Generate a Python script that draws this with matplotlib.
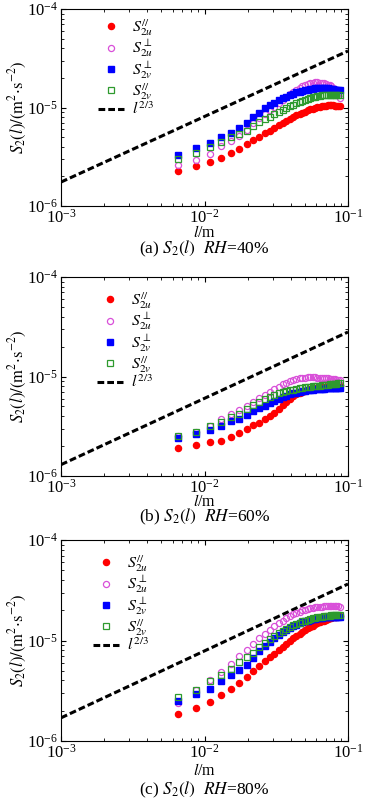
import numpy as np
import matplotlib
matplotlib.use("Agg")
import matplotlib.pyplot as plt

plt.rcParams['font.family'] = ['Liberation Serif', 'DejaVu Serif']
plt.rcParams['mathtext.fontset'] = 'stix'

# separation l (m)
l_vals = [0.00656, 0.00875, 0.01094, 0.01313, 0.01531, 0.01750, 0.01969, 0.02188,
          0.02406, 0.02625, 0.02844, 0.03063, 0.03281, 0.03500, 0.03719, 0.03938,
          0.04156, 0.04375, 0.04594, 0.04813, 0.05031, 0.05250, 0.05469, 0.05688,
          0.05906, 0.06125, 0.06344, 0.06563, 0.06781, 0.07000, 0.07219, 0.07438,
          0.07656, 0.07875, 0.08094, 0.08313, 0.08531, 0.08750]

# values in units of 1e-6 m^2 s^-2
# RH = 40%
a_u_par = [2.26, 2.55, 2.80, 3.08, 3.44, 3.81, 4.25, 4.63, 5.05, 5.45, 5.82, 6.23, 6.6, 7.0,
           7.35, 7.7, 8.0, 8.3, 8.6, 8.85, 9.1, 9.35, 9.55, 9.75, 9.9, 10.05, 10.2, 10.3,
           10.4, 10.45, 10.5, 10.5, 10.5, 10.5, 10.45, 10.45, 10.4, 10.4]
a_u_perp = [2.6, 2.9, 3.36, 4.08, 4.59, 5.16, 5.9, 6.9, 7.76, 8.6, 9.4, 10.2, 11.0, 11.9,
            12.8, 13.7, 14.5, 15.2, 15.9, 16.5, 17.0, 17.4, 17.7, 17.9, 18.0, 18.0, 17.9,
            17.8, 17.6, 17.4, 17.1, 16.8, 16.4, 15.9, 15.3, 14.6, 13.8, 12.6]
a_v_perp = [3.33, 3.87, 4.38, 5.0, 5.54, 6.24, 7.0, 7.94, 8.85, 9.8, 10.5, 11.2, 11.8, 12.4,
            12.9, 13.4, 13.8, 14.2, 14.5, 14.8, 15.0, 15.2, 15.4, 15.5, 15.6, 15.7, 15.7,
            15.7, 15.7, 15.6, 15.6, 15.5, 15.4, 15.3, 15.2, 15.1, 15.0, 14.9]
a_v_par = [2.97, 3.47, 3.99, 4.49, 4.97, 5.33, 5.8, 6.5, 7.1, 7.6, 8.1, 8.6, 9.0, 9.5, 9.9,
           10.3, 10.7, 11.0, 11.4, 11.7, 12.0, 12.3, 12.5, 12.7, 12.9, 13.1, 13.2, 13.3,
           13.4, 13.5, 13.5, 13.5, 13.5, 13.5, 13.5, 13.4, 13.4, 13.3]
# RH = 60%
b_u_par = [1.90, 2.05, 2.18, 2.27, 2.49, 2.68, 2.99, 3.22, 3.43, 3.77, 4.01, 4.34, 4.76, 5.15,
           5.57, 5.95, 6.3, 6.6, 6.85, 7.05, 7.2, 7.35, 7.45, 7.55, 7.6, 7.7, 7.75, 7.8,
           7.85, 7.9, 7.95, 8.0, 8.05, 8.1, 8.15, 8.2, 8.25, 8.3]
b_u_perp = [2.5, 2.8, 3.18, 3.71, 4.2, 4.65, 5.1, 5.6, 6.1, 6.55, 7.0, 7.5, 7.9, 8.35, 8.7,
            9.0, 9.25, 9.45, 9.6, 9.7, 9.75, 9.8, 9.8, 9.8, 9.8, 9.75, 9.7, 9.7, 9.65, 9.6,
            9.55, 9.5, 9.45, 9.4, 9.35, 9.3, 9.25, 9.2]
b_v_perp = [2.40, 2.65, 2.87, 3.18, 3.54, 3.77, 4.07, 4.48, 4.8, 5.1, 5.4, 5.7, 5.95, 6.2,
            6.4, 6.6, 6.75, 6.9, 7.0, 7.1, 7.2, 7.3, 7.35, 7.4, 7.45, 7.5, 7.5, 7.55, 7.55,
            7.6, 7.6, 7.6, 7.65, 7.65, 7.65, 7.7, 7.7, 7.7]
b_v_par = [2.55, 2.8, 3.15, 3.48, 3.92, 4.23, 4.76, 5.23, 5.6, 5.95, 6.25, 6.5, 6.75, 6.95,
           7.1, 7.25, 7.4, 7.5, 7.6, 7.7, 7.8, 7.85, 7.9, 7.95, 8.0, 8.05, 8.1, 8.15, 8.2,
           8.25, 8.3, 8.35, 8.4, 8.45, 8.5, 8.5, 8.55, 8.6]
# RH = 80%
c_u_par = [1.85, 2.12, 2.47, 2.84, 3.31, 3.77, 4.33, 4.94, 5.53, 6.21, 6.8, 7.4, 8.1, 8.7,
           9.3, 9.9, 10.5, 11.1, 11.7, 12.2, 12.7, 13.2, 13.7, 14.1, 14.5, 14.9, 15.2, 15.5,
           15.8, 16.1, 16.4, 16.6, 16.8, 17.0, 17.2, 17.3, 17.4, 17.5]
c_u_perp = [2.4, 3.2, 4.0, 4.9, 5.9, 7.0, 8.1, 9.3, 10.5, 11.6, 12.7, 13.8, 14.8, 15.8, 16.7,
            17.5, 18.2, 18.8, 19.4, 19.9, 20.3, 20.7, 21.0, 21.2, 21.4, 21.5, 21.6, 21.7,
            21.8, 21.8, 21.9, 21.9, 22.0, 22.0, 22.0, 21.9, 21.8, 21.7]
c_v_perp = [2.5, 2.93, 3.31, 3.92, 4.5, 5.13, 5.75, 6.71, 7.82, 8.78, 9.7, 10.6, 11.4, 12.1,
            12.8, 13.4, 13.9, 14.4, 14.8, 15.2, 15.5, 15.8, 16.1, 16.3, 16.5, 16.7, 16.8,
            16.9, 17.0, 17.0, 17.1, 17.1, 17.1, 17.1, 17.1, 17.1, 17.1, 17.1]
c_v_par = [2.77, 3.24, 3.92, 4.57, 5.25, 6.12, 6.81, 7.53, 8.64, 9.5, 10.3, 11.1, 11.8, 12.5,
           13.1, 13.7, 14.2, 14.7, 15.1, 15.5, 15.8, 16.1, 16.4, 16.6, 16.8, 17.0, 17.2,
           17.3, 17.4, 17.5, 17.6, 17.7, 17.8, 17.9, 17.9, 18.0, 18.0, 18.0]

# reference l^{2/3} line end points
line_x = [1e-3, 1e-1]
line_a = [1.75e-6, 3.75e-5]
line_b = [1.30e-6, 2.80e-5]
line_c = [1.70e-6, 3.65e-5]

captions = ["(a) $S_2(l)$  $RH$=40%", "(b) $S_2(l)$  $RH$=60%", "(c) $S_2(l)$  $RH$=80%"]
labels = [r"$S_{2u}^{//}$", r"$S_{2u}^{\perp}$", r"$S_{2v}^{\perp}$", r"$S_{2v}^{//}$", r"$l^{2/3}$"]

panels = [
    (a_u_par, a_u_perp, a_v_perp, a_v_par, line_a),
    (b_u_par, b_u_perp, b_v_perp, b_v_par, line_b),
    (c_u_par, c_u_perp, c_v_perp, c_v_par, line_c),
]

W, H = 376, 801
fig = plt.figure(figsize=(W / 100, H / 100), dpi=100)

# axes pixel boxes (left, top, right, bottom), xlabel / caption offsets below axes (px)
boxes = [(61, 9, 348, 206), (61, 277, 348, 476), (61, 540, 348, 741)]
xlab_off = [27, 26, 30]
cap_off = [43, 41, 49]
leg_off = [8, 13, 13]        # legend top below axes top (px)
leg_x = [98, 97, 93]         # handle start (px)

FS = 12.5
LFS = 11.5
x = np.array(l_vals)
for i, ((up, uq, vq, vp, ln), box, cap) in enumerate(zip(panels, boxes, captions)):
    l0, t0, r0, b0 = box
    w, h = r0 - l0, b0 - t0
    ax = fig.add_axes([l0 / W, 1 - b0 / H, w / W, h / H])
    ax.set_xscale('log')
    ax.set_yscale('log')
    ms = 4.4
    ax.plot(x, np.array(up) * 1e-6, 'o', color='#ff0000', ms=ms, mec='#ff0000', label=labels[0], zorder=3)
    ax.plot(x, np.array(uq) * 1e-6, 'o', color='#d94fd9', mfc='none', mew=0.9, ms=ms, label=labels[1], zorder=3)
    ax.plot(x, np.array(vq) * 1e-6, 's', color='#0000ff', ms=ms - 0.2, label=labels[2], zorder=3)
    ax.plot(x, np.array(vp) * 1e-6, 's', color='#2e9a2e', mfc='none', mew=0.9, ms=ms - 0.2, label=labels[3], zorder=3)
    ax.plot(line_x, ln, '--', color='black', lw=2.2, dashes=(2.2, 1.0), label=labels[4], zorder=2)
    ax.set_xlim(1e-3, 1e-1)
    ax.set_ylim(1e-6, 1e-4)
    ax.tick_params(which='both', direction='in', top=True, right=True, labelsize=12)
    ax.tick_params(which='major', length=3.5, width=0.8)
    ax.tick_params(axis='x', which='major', pad=2)
    ax.tick_params(axis='y', which='major', pad=2.5)
    ax.tick_params(which='minor', length=2, width=0.6)
    ax.set_xlabel("$l$/m", fontsize=11.5)
    ax.xaxis.label.set_va('center')
    ax.xaxis.set_label_coords(0.5, -xlab_off[i] / h)
    ax.set_ylabel(r"$S_2(l)/(\mathrm{m}^2{\cdot}\mathrm{s}^{-2})$", fontsize=12)
    ax.yaxis.label.set_va('center')
    ax.yaxis.set_label_coords(-(l0 - 18) / w, 0.5)
    ax.text(0.5, -cap_off[i] / h, cap, transform=ax.transAxes, ha='center', va='center', fontsize=FS)
    pad_px = 0.4 * LFS * 100 / 72
    ax.legend(loc='upper left',
              bbox_to_anchor=((leg_x[i] - pad_px - l0) / w, 1 - (leg_off[i] - pad_px) / h),
              frameon=False, fontsize=LFS, borderaxespad=0,
              handlelength=1.65, handletextpad=0.5, labelspacing=0.0, numpoints=1)

fig.savefig("out.png", dpi=100)
